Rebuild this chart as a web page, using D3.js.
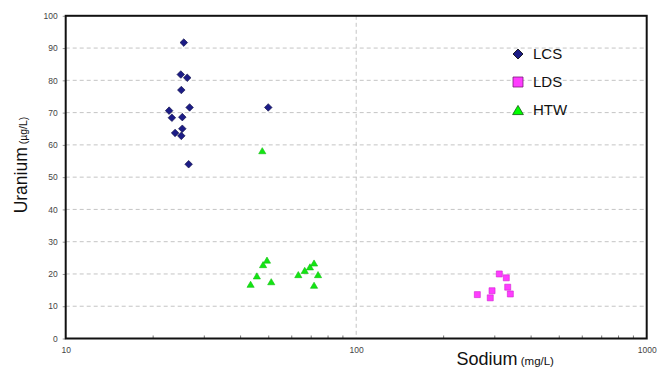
<!DOCTYPE html>
<html>
<head>
<meta charset="utf-8">
<script src="https://cdn.jsdelivr.net/npm/d3@7"></script>
<style>
  html, body { margin: 0; padding: 0; background: #fff; }
  svg { display: block; font-family: "Liberation Sans", Arial, sans-serif; }
</style>
</head>
<body>
<svg id="chart" width="666" height="369"></svg>
<script>
// Sodium (mg/L) vs Uranium (µg/L) by water type
const seriesNames = ["LCS", "LDS", "HTW"];

const lcsSodium  = [25.5, 24.9, 26.2, 25.0, 26.7, 22.7, 23.2, 25.2, 25.2, 23.8, 25.0, 26.5, 49.8];
const lcsUranium = [91.7, 81.8, 80.8, 77.0, 71.6, 70.6, 68.4, 68.6, 65.0, 63.7, 62.8, 54.0, 71.6];

const ldsSodium  = [310.9, 328.6, 332.3, 293.5, 339.3, 261.2, 289.4];
const ldsUranium = [20.0, 18.8, 15.9, 14.8, 13.8, 13.6, 12.6];

const htwSodium  = [47.5, 49.3, 47.8, 45.5, 43.3, 51.0, 63.2, 66.5, 69.3, 71.6, 73.9, 71.6];
const htwUranium = [58.2, 24.3, 22.9, 19.4, 16.8, 17.6, 19.8, 21.1, 22.2, 23.4, 19.8, 16.5];

const xTicks = [10, 100, 1000];
const xMinorTicks = [20, 30, 40, 50, 60, 70, 80, 90, 200, 300, 400, 500, 600, 700, 800, 900];
const yTicks = [0, 10, 20, 30, 40, 50, 60, 70, 80, 90, 100];

const svg = d3.select("#chart");
const plot = { left: 65.7, right: 646.7, top: 15.8, bottom: 338.5 };

const x = d3.scaleLog().domain([10, 1000]).range([plot.left, plot.right]);
const y = d3.scaleLinear().domain([0, 100]).range([plot.bottom, plot.top]);

// horizontal dashed gridlines
svg.append("g")
  .selectAll("line")
  .data(yTicks.filter(v => v > 0 && v < 100))
  .join("line")
  .attr("x1", plot.left).attr("x2", plot.right)
  .attr("y1", d => y(d)).attr("y2", d => y(d))
  .attr("stroke", "#c4c4c4").attr("stroke-width", 1)
  .attr("stroke-dasharray", "4,3");

// vertical dashed gridline at the middle decade
svg.append("g")
  .selectAll("line")
  .data(xTicks.filter(v => v > 10 && v < 1000))
  .join("line")
  .attr("x1", d => x(d)).attr("x2", d => x(d))
  .attr("y1", plot.top).attr("y2", plot.bottom)
  .attr("stroke", "#c4c4c4").attr("stroke-width", 1)
  .attr("stroke-dasharray", "4,3");

// y axis labels and ticks
const yAxis = d3.axisLeft(y).tickValues(yTicks).tickSize(3).tickPadding(5);
const gy = svg.append("g").attr("transform", `translate(${plot.left},0)`).call(yAxis);
gy.select(".domain").remove();
gy.selectAll(".tick line").attr("stroke", "#999");
gy.selectAll(".tick text").attr("fill", "#444").attr("font-size", 8.5)
  .attr("font-family", "Liberation Sans, Arial, sans-serif");

// x axis labels
const xAxis = d3.axisBottom(x).tickValues(xTicks).tickFormat(d3.format("d")).tickSize(0).tickPadding(8);
const gx = svg.append("g").attr("transform", `translate(0,${plot.bottom})`).call(xAxis);
gx.select(".domain").remove();
gx.selectAll(".tick text").attr("fill", "#444").attr("font-size", 8.5)
  .attr("font-family", "Liberation Sans, Arial, sans-serif");

// minor log ticks along the bottom edge
svg.append("g")
  .selectAll("line")
  .data(xMinorTicks)
  .join("line")
  .attr("x1", d => x(d)).attr("x2", d => x(d))
  .attr("y1", plot.bottom).attr("y2", plot.bottom - 3)
  .attr("stroke", "#777").attr("stroke-width", 1);

// plot frame
svg.append("rect")
  .attr("x", plot.left).attr("y", plot.top)
  .attr("width", plot.right - plot.left).attr("height", plot.bottom - plot.top)
  .attr("fill", "none").attr("stroke", "#111").attr("stroke-width", 2);

// marker shapes
const diamond = s => `M0,${-s}L${s},0L0,${s}L${-s},0Z`;
const square = s => `M${-s},${-s}H${s}V${s}H${-s}Z`;
const triangle = s => `M0,${-s * 0.85}L${s},${s * 0.85}L${-s},${s * 0.85}Z`;

const styles = {
  LCS: { path: diamond, fill: "#1c1c86", stroke: "#0a0a40" },
  LDS: { path: square, fill: "#ff3cff", stroke: "#d020d0" },
  HTW: { path: triangle, fill: "#12e612", stroke: "#10c010" }
};

function drawSeries(name, xs, ys, size) {
  const st = styles[name];
  svg.append("g")
    .selectAll("path")
    .data(xs.map((v, i) => [v, ys[i]]))
    .join("path")
    .attr("transform", d => `translate(${x(d[0])},${y(d[1])})`)
    .attr("d", st.path(size))
    .attr("fill", st.fill).attr("stroke", st.stroke).attr("stroke-width", 0.6);
}

drawSeries("LDS", ldsSodium, ldsUranium, 3);
drawSeries("HTW", htwSodium, htwUranium, 3.6);
drawSeries("LCS", lcsSodium, lcsUranium, 3.8);

// legend
const legendItems = seriesNames.map((n, i) => ({ name: n, i }));
const legend = svg.append("g").attr("transform", "translate(518,54)");
const legendSizes = { LCS: 5, LDS: 5, HTW: 5.4 };
const legendStroke = { LCS: "#000", LDS: "#7a1a7a", HTW: "#0a5a0a" };
legend.selectAll("path")
  .data(legendItems)
  .join("path")
  .attr("transform", d => `translate(0,${d.i * 28})`)
  .attr("d", d => styles[d.name].path(legendSizes[d.name]))
  .attr("fill", d => d.name === "HTW" ? "#00ff00" : styles[d.name].fill)
  .attr("stroke", d => legendStroke[d.name]).attr("stroke-width", 0.8);
legend.selectAll("text")
  .data(legendItems)
  .join("text")
  .attr("x", 15).attr("y", d => d.i * 28 + 5.3)
  .attr("font-size", 15).attr("fill", "#111")
  .text(d => d.name);

// axis titles
const yTitle = svg.append("text")
  .attr("transform", "translate(26.5,165) rotate(-90)")
  .attr("text-anchor", "middle").attr("fill", "#111");
yTitle.append("tspan").attr("font-size", 17.5).text("Uranium");
yTitle.append("tspan").attr("font-size", 10.5).text(" (µg/L)");

const xTitle = svg.append("text")
  .attr("x", 456.5).attr("y", 364.5)
  .attr("fill", "#111");
xTitle.append("tspan").attr("font-size", 18).text("Sodium");
xTitle.append("tspan").attr("font-size", 11.5).text(" (mg/L)");
</script>
</body>
</html>
